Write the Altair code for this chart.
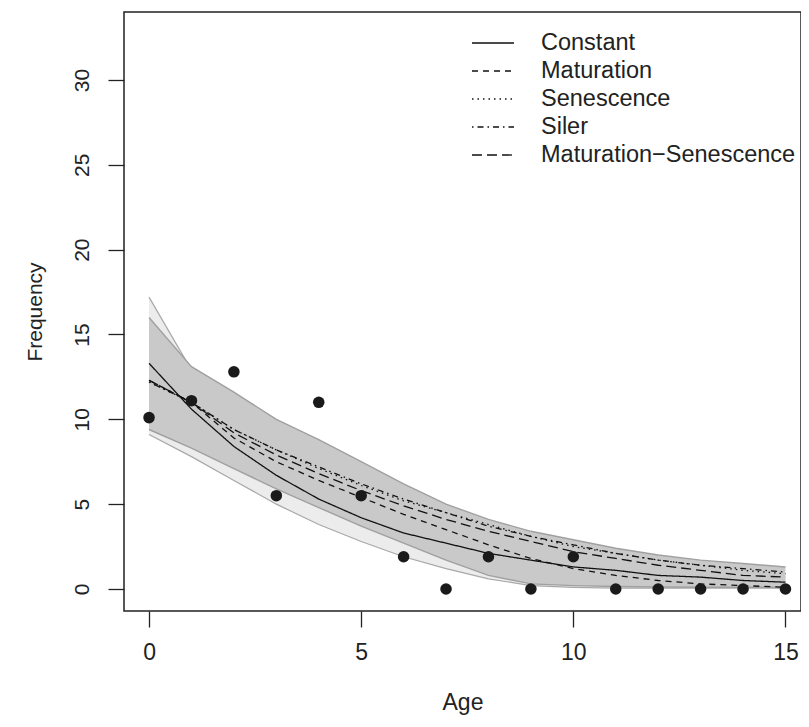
import altair as alt
import pandas as pd

# ---- data ----
ages = list(range(16))
freq = [10.1, 11.1, 12.8, 5.5, 11.0, 5.5, 1.9, 0.0, 1.9, 0.0, 1.9, 0.0, 0.0, 0.0, 0.0, 0.0]

models = ["Constant", "Maturation", "Senescence", "Siler", "Maturation\u2212Senescence"]
constant = [13.3, 10.6, 8.4, 6.7, 5.3, 4.2, 3.3, 2.7, 2.1, 1.7, 1.3, 1.1, 0.8, 0.7, 0.5, 0.4]
maturation = [12.3, 11.0, 8.9, 7.5, 6.4, 5.4, 4.4, 3.5, 2.6, 1.8, 1.2, 0.8, 0.5, 0.3, 0.2, 0.1]
senescence = [12.2, 11.0, 9.4, 8.2, 7.1, 6.1, 5.2, 4.5, 3.8, 3.1, 2.5, 2.1, 1.7, 1.4, 1.1, 0.9]
siler = [12.2, 11.0, 9.4, 8.2, 7.2, 6.2, 5.3, 4.5, 3.7, 3.1, 2.6, 2.1, 1.7, 1.4, 1.2, 1.0]
mat_sen = [12.3, 11.0, 9.2, 7.9, 6.8, 5.8, 4.9, 4.1, 3.4, 2.8, 2.2, 1.8, 1.4, 1.1, 0.8, 0.7]

light_upper = [17.2, 12.9, 10.3, 8.3, 6.7, 5.4, 4.4, 3.6, 2.9, 2.4, 1.9, 1.5, 1.2, 1.0, 0.8, 0.7]
light_lower = [9.1, 7.8, 6.4, 5.0, 3.8, 2.8, 1.9, 1.2, 0.6, 0.2, 0.1, 0.05, 0.05, 0.05, 0.05, 0.05]
mid_upper = [16.0, 13.1, 11.6, 10.0, 8.8, 7.5, 6.2, 5.0, 4.1, 3.4, 2.9, 2.4, 2.0, 1.7, 1.5, 1.3]
mid_lower = [9.4, 8.3, 7.1, 5.9, 4.8, 3.7, 2.7, 1.7, 0.8, 0.3, 0.2, 0.15, 0.12, 0.1, 0.1, 0.1]

x_ticks = [0, 5, 10, 15]
y_ticks = [0, 5, 10, 15, 20, 25, 30]

# ---- tables ----
pts = pd.DataFrame({"age": ages, "freq": freq})
series = [constant, maturation, senescence, siler, mat_sen]
lines = pd.DataFrame({
    "age": ages * len(models),
    "value": sum(series, []),
    "model": sum([[m] * len(ages) for m in models], []),
})
bands = pd.DataFrame({
    "age": ages,
    "light_upper": light_upper, "light_lower": light_lower,
    "mid_upper": mid_upper, "mid_lower": mid_lower,
})

FONT = "Liberation Sans"
x_scale = alt.Scale(domain=[-0.59, 15.366], nice=False, zero=False)
y_scale = alt.Scale(domain=[-1.297, 34.006], nice=False, zero=False)

x_axis = alt.Axis(title="Age", values=x_ticks, format="d", grid=False, domain=False,
                  tickSize=16, tickColor="#222", tickWidth=1.3,
                  labelFont=FONT, labelFontSize=23, labelColor="#222", labelPadding=14,
                  titleFont=FONT, titleFontSize=23, titleFontWeight="normal",
                  titleColor="#222", titlePadding=27)
y_axis = alt.Axis(title="Frequency", values=y_ticks, format="d", grid=False, domain=False,
                  tickSize=16, tickColor="#222", tickWidth=1.3,
                  labelFont=FONT, labelFontSize=21, labelColor="#222", labelPadding=20,
                  labelAngle=270, labelAlign="center", labelBaseline="alphabetic",
                  titleFont=FONT, titleFontSize=21, titleFontWeight="normal",
                  titleColor="#222", titleAngle=270, titleAlign="center",
                  titleBaseline="alphabetic", titleX=-83)

X = alt.X("age:Q", scale=x_scale, axis=x_axis)

def Y(field):
    return alt.Y(f"{field}:Q", scale=y_scale, axis=y_axis)

light_area = alt.Chart(bands).mark_area(color="#ececec", opacity=1).encode(
    x=X, y=Y("light_upper"), y2="light_lower:Q")
light_edges = alt.Chart(bands).transform_fold(
    ["light_upper", "light_lower"], as_=["edge", "v"]
).mark_line(color="#a8a8a8", strokeWidth=1.2).encode(
    x=X, y=Y("v"), detail="edge:N")
mid_area = alt.Chart(bands).mark_area(color="#c9c9c9", opacity=1).encode(
    x=X, y=Y("mid_upper"), y2="mid_lower:Q")
mid_edges = alt.Chart(bands).transform_fold(
    ["mid_upper", "mid_lower"], as_=["edge", "v"]
).mark_line(color="#a0a0a0", strokeWidth=1.4).encode(
    x=X, y=Y("v"), detail="edge:N")

dash_scale = alt.Scale(domain=models,
                       range=[[1, 0], [6, 5], [1.5, 4], [1.5, 4, 6, 4], [10, 5]])
model_lines = alt.Chart(lines).mark_line(color="#111", strokeWidth=1.3).encode(
    x=X, y=Y("value"),
    strokeDash=alt.StrokeDash("model:N", scale=dash_scale, sort=models,
                              legend=alt.Legend(title=None, orient="none",
                                                legendX=354, legendY=16,
                                                symbolType="M-1.5,0H1.5", symbolSize=784,
                                                symbolStrokeWidth=1.3,
                                                symbolStrokeColor="#111",
                                                symbolFillColor="transparent",
                                                labelFont=FONT, labelFontSize=23.5,
                                                labelColor="#222", labelOffset=33,
                                                labelLimit=500,
                                                rowPadding=1, padding=0)))
points = alt.Chart(pts).mark_circle(color="#1a1a1a", opacity=1, size=133).encode(
    x=X, y=Y("freq"))

chart = alt.layer(light_area, light_edges, mid_area, mid_edges, model_lines, points).properties(
    width=677, height=599,
    autosize=alt.AutoSizeParams(type="none"),
    padding={"left": 116, "top": 4, "right": 0, "bottom": 107},
    background="white",
).configure_view(stroke="#222", strokeWidth=1.5)

chart.save("out.html", embed_options={"renderer": "svg", "actions": False})
